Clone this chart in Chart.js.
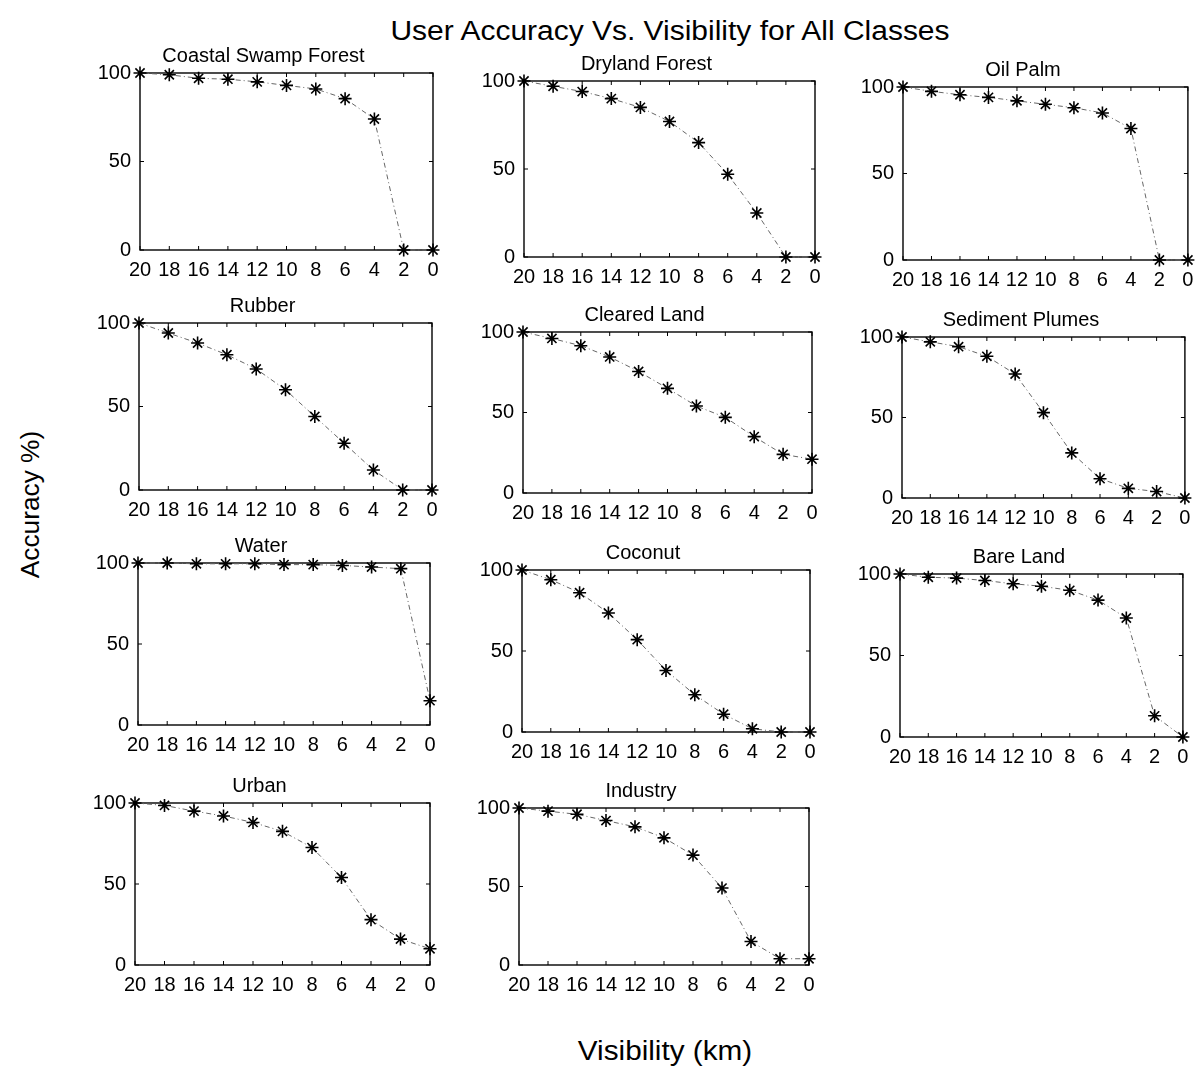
<!DOCTYPE html>
<html>
<head>
<meta charset="utf-8">
<title>User Accuracy Vs. Visibility</title>
<script src="https://cdn.jsdelivr.net/npm/chart.js@4.4.0/dist/chart.umd.min.js"></script>
<style>
body{margin:0;background:#fff;width:1196px;height:1069px;overflow:hidden;position:relative;font-family:"Liberation Sans",Arial,sans-serif;color:#000}
canvas{position:absolute}
#mainTitle{position:absolute;top:16px;left:370px;width:600px;text-align:center;font-size:27px;white-space:nowrap;transform:scaleX(1.11)}
#yTitle{position:absolute;left:-45px;top:490px;width:150px;text-align:center;font-size:25px;transform:rotate(-90deg) scaleX(1.05);white-space:nowrap}
#xTitle{position:absolute;left:515px;top:1036px;width:300px;text-align:center;font-size:27px;white-space:nowrap;transform:scaleX(1.1)}
</style>
</head>
<body>
<div id="mainTitle">User Accuracy Vs. Visibility for All Classes</div>
<div id="yTitle">Accuracy %)</div>
<div id="xTitle">Visibility (km)</div>
<script>
var visibility=[20,18,16,14,12,10,8,6,4,2,0]
var accuracyTicks=[0,50,100]

var classNames=["Coastal Swamp Forest","Dryland Forest","Oil Palm","Rubber","Cleared Land","Sediment Plumes","Water","Coconut","Bare Land","Urban","Industry"]

var coastalSwamp=[100,99,97,96.5,95,93,91,85.5,74,0,0]
var drylandForest=[100,97,94,90,85,77,65,47,25,0,0]
var oilPalm=[100,97.5,95.5,94,92,90,88,85,76,0,0]
var rubber=[100,94,88,81,72.5,60,44,28,12,0,0]
var clearedLand=[100,96,91.5,84.5,75.5,65,54,47,35,24,21]
var sedimentPlumes=[100,97,94,88,77,53,28,12,6,4,0]
var water=[100,100,99.5,99.5,99.5,99,99,98.5,97.5,96.5,15]
var coconut=[100,94,86,73.5,57,38,23,11,2,0,0]
var bareLand=[100,98,97.5,96,94,92.5,90,84,73,13,0]
var urban=[100,98.5,95,92,88,82.5,72.5,54,28,16,10]
var industry=[100,98,96,92,88,81,70,49,15,4,4]

var allSeries=[coastalSwamp,drylandForest,oilPalm,rubber,clearedLand,sedimentPlumes,water,coconut,bareLand,urban,industry]

// plot area of each panel on the page: left, top, width, height
var panels=[
  [140,73,293,177],[524,81,291,176],[903,87,286,173],
  [139,323,293,167],[523,332,289,161],[902,337,284,161],
  [138,563,292,162],[522,570,288,162],[900,574,284,163],
  [135,803,295,162],[519,808,290,157]
]

var fontFamily='"Liberation Sans", Arial, sans-serif'
var yAxisW=46, xAxisH=28, topSpace=29

// box round the plot with inward ticks on all four sides
var frame={
  id:'frame',
  beforeDatasetsDraw:function(chart){
    var a=chart.chartArea, ctx=chart.ctx
    var xs=chart.scales.x, ys=chart.scales.y
    ctx.save()
    ctx.strokeStyle='#000'
    ctx.lineWidth=1.4
    ctx.strokeRect(a.left,a.top,a.right-a.left,a.bottom-a.top)
    ctx.lineWidth=1
    ctx.beginPath()
    visibility.forEach(function(v){
      var px=xs.getPixelForValue(v)
      ctx.moveTo(px,a.bottom);ctx.lineTo(px,a.bottom-4)
      ctx.moveTo(px,a.top);ctx.lineTo(px,a.top+4)
    })
    accuracyTicks.forEach(function(v){
      var py=ys.getPixelForValue(v)
      ctx.moveTo(a.left,py);ctx.lineTo(a.left+4,py)
      ctx.moveTo(a.right,py);ctx.lineTo(a.right-4,py)
    })
    ctx.stroke()
    ctx.restore()
  }
}

panels.forEach(function(p,i){
  var padRight=(i%3==2)?7:12
  var cv=document.createElement('canvas')
  var w=yAxisW+p[2]+padRight, h=topSpace+p[3]+xAxisH
  cv.width=w;cv.height=h
  cv.style.left=(p[0]-yAxisW)+'px'
  cv.style.top=(p[1]-topSpace)+'px'
  cv.style.width=w+'px';cv.style.height=h+'px'
  document.body.appendChild(cv)

  new Chart(cv,{
    type:'line',
    data:{
      datasets:[{
        data:visibility.map(function(v,k){return {x:v,y:allSeries[i][k]}}),
        borderColor:'#666',
        borderWidth:1,
        borderDash:[5,3,1,3],
        pointStyle:'star',
        pointRadius:6.5,
        pointBorderColor:'#000',
        pointBorderWidth:1.6,
        pointBackgroundColor:'#000',
        tension:0,
        clip:false
      }]
    },
    options:{
      responsive:false,
      animation:false,
      layout:{padding:{top:2,left:0,right:padRight,bottom:0}},
      plugins:{
        legend:{display:false},
        tooltip:{enabled:false},
        title:{display:true,text:classNames[i],color:'#000',
          font:{family:fontFamily,size:20,weight:'normal',lineHeight:1},
          padding:{top:0,bottom:7}}
      },
      scales:{
        x:{
          type:'linear',reverse:true,min:0,max:20,
          afterBuildTicks:function(s){s.ticks=visibility.map(function(v){return {value:v}})},
          afterFit:function(s){s.height=xAxisH},
          grid:{display:false},border:{display:false},
          ticks:{color:'#000',font:{family:fontFamily,size:20},padding:0,maxRotation:0,autoSkip:false}
        },
        y:{
          min:0,max:100,
          afterBuildTicks:function(s){s.ticks=accuracyTicks.map(function(v){return {value:v}})},
          afterFit:function(s){s.width=yAxisW},
          grid:{display:false},border:{display:false},
          ticks:{color:'#000',font:{family:fontFamily,size:20},padding:1}
        }
      }
    },
    plugins:[frame]
  })
})
</script>
</body>
</html>
